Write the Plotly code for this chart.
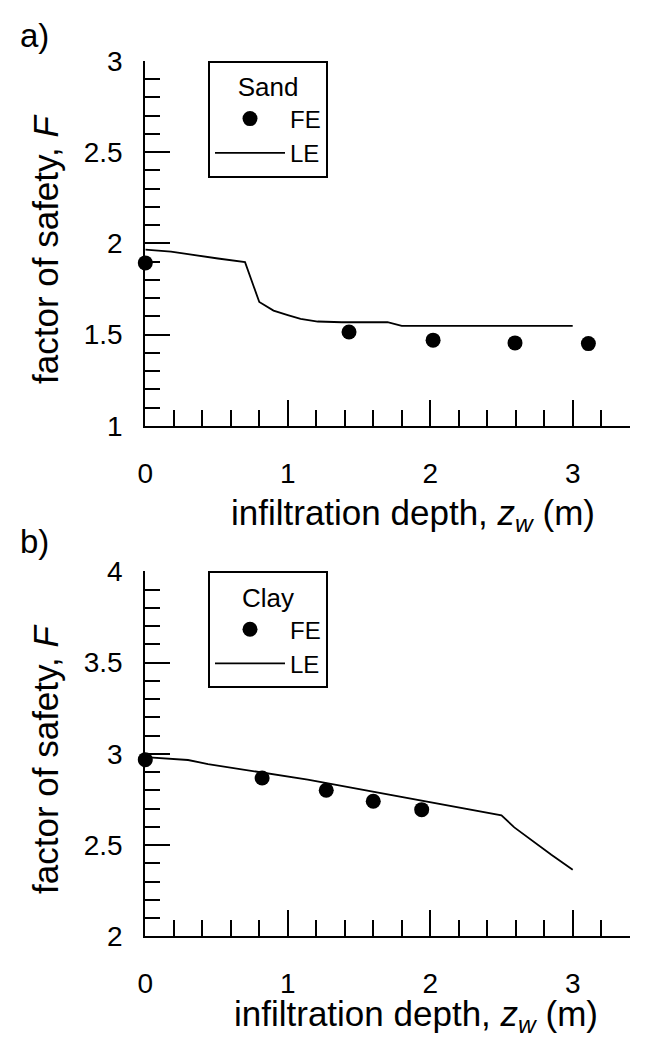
import plotly.graph_objects as go

# ---- data ----
# panel a) Sand
sand_le_x = [0, 0.18, 0.51, 0.70, 0.80, 0.90, 1.00, 1.09, 1.21, 1.38, 1.70, 1.80, 3.00]
sand_le_y = [1.966, 1.955, 1.917, 1.897, 1.679, 1.632, 1.607, 1.586, 1.572, 1.568, 1.568, 1.548, 1.548]
sand_fe_x = [0, 1.43, 2.02, 2.595, 3.11]
sand_fe_y = [1.893, 1.515, 1.470, 1.455, 1.451]

# panel b) Clay
clay_le_x = [0, 0.30, 0.44, 1.14, 2.50, 2.59, 2.85, 3.00]
clay_le_y = [2.982, 2.966, 2.944, 2.858, 2.663, 2.597, 2.447, 2.365]
clay_fe_x = [0, 0.82, 1.27, 1.60, 1.94]
clay_fe_y = [2.968, 2.867, 2.800, 2.740, 2.694]

panel_labels = ["a)", "b)"]
legend_titles = ["Sand", "Clay"]
x_title = "infiltration depth, <i>z<sub>w</sub></i> (m)"
y_title = "factor of safety, <i>F</i>"

x_range = [0, 3.4]
y_range_a = [1, 3]
y_range_b = [2, 4]

FONT = "Liberation Sans, Arial, sans-serif"
W, H = 664, 1038

fig = go.Figure()

marker = dict(color="black", size=15)
line = dict(color="black", width=1.8)

fig.add_trace(go.Scatter(x=sand_fe_x, y=sand_fe_y, mode="markers", marker=marker, name="FE",
                         xaxis="x", yaxis="y", legend="legend", cliponaxis=False))
fig.add_trace(go.Scatter(x=sand_le_x, y=sand_le_y, mode="lines", line=line, name="LE",
                         xaxis="x", yaxis="y", legend="legend", cliponaxis=False))
fig.add_trace(go.Scatter(x=clay_fe_x, y=clay_fe_y, mode="markers", marker=marker, name="FE",
                         xaxis="x2", yaxis="y2", legend="legend2", cliponaxis=False))
fig.add_trace(go.Scatter(x=clay_le_x, y=clay_le_y, mode="lines", line=line, name="LE",
                         xaxis="x2", yaxis="y2", legend="legend2", cliponaxis=False))
# empty traces that only bring the label-carrying overlay axes to life
fig.add_trace(go.Scatter(x=[], y=[], xaxis="x3", yaxis="y3", showlegend=False, hoverinfo="skip"))
fig.add_trace(go.Scatter(x=[], y=[], xaxis="x4", yaxis="y4", showlegend=False, hoverinfo="skip"))

# pixel geometry
x0_px, x1_px = 137.3, 621.7
xdom = [x0_px / W, x1_px / W]
ydom_a = [1 - 418.0 / H, 1 - 52.7 / H]
ydom_b = [1 - 928.3 / H, 1 - 563.3 / H]

tickfont = dict(family=FONT, size=28, color="black")
CLEAR = "rgba(0,0,0,0)"


def xaxis(anchor):
    # axis line with inward major/minor ticks (labels come from the overlay axis)
    return dict(
        domain=xdom, anchor=anchor, range=x_range,
        showline=True, linecolor="black", linewidth=1.8,
        showgrid=False, zeroline=False, showticklabels=False,
        ticks="inside", ticklen=26, tickwidth=1.8, tickcolor="black",
        tick0=0, dtick=1,
        minor=dict(ticks="inside", ticklen=16, tickwidth=1.8, tickcolor="black", dtick=0.2, tick0=0,
                   showgrid=False),
        automargin=False, fixedrange=True,
    )


def xlabels(anchor, over):
    # label-only overlay axis; transparent outside ticks set the label distance
    return dict(
        overlaying=over, anchor=anchor, range=x_range,
        showline=False, showgrid=False, zeroline=False,
        ticks="outside", ticklen=22, tickcolor=CLEAR, tickwidth=1,
        tick0=0, dtick=1, tickfont=tickfont,
        automargin=False, fixedrange=True,
    )


def yaxis(anchor, dom, rng):
    return dict(
        domain=dom, anchor=anchor, range=rng,
        showline=True, linecolor="black", linewidth=1.8,
        showgrid=False, zeroline=False, showticklabels=False,
        ticks="inside", ticklen=25, tickwidth=1.8, tickcolor="black",
        tick0=0, dtick=0.5,
        minor=dict(ticks="inside", ticklen=15, tickwidth=1.8, tickcolor="black", dtick=0.1, tick0=0,
                   showgrid=False),
        automargin=False, fixedrange=True,
    )


def ylabels(anchor, over, rng):
    return dict(
        overlaying=over, anchor=anchor, range=rng,
        showline=False, showgrid=False, zeroline=False,
        ticks="outside", ticklen=16, tickcolor=CLEAR, tickwidth=1,
        tick0=0, dtick=0.5, tickfont=tickfont,
        automargin=False, fixedrange=True,
    )


legend_common = dict(
    xanchor="left", yanchor="top",
    bgcolor="white", bordercolor="black", borderwidth=2,
    font=dict(family=FONT, size=24, color="black"),
    itemwidth=70, tracegroupgap=0,
)


def ann(text, xpx, ypx, size, angle=0, xanchor="center", yanchor="middle"):
    return dict(text=text, xref="paper", yref="paper", x=xpx / W, y=1 - ypx / H,
                xanchor=xanchor, yanchor=yanchor, showarrow=False, textangle=angle,
                font=dict(family=FONT, size=size, color="black"))


fig.update_layout(
    width=W, height=H,
    margin=dict(l=0, r=0, t=0, b=0),
    paper_bgcolor="white", plot_bgcolor="white",
    font=dict(family=FONT, color="black"),
    xaxis=xaxis("y"),
    yaxis=yaxis("x", ydom_a, y_range_a),
    xaxis2=xaxis("y2"),
    yaxis2=yaxis("x2", ydom_b, y_range_b),
    xaxis3=xlabels("y", "x"),
    yaxis3=ylabels("x", "y", y_range_a),
    xaxis4=xlabels("y2", "x2"),
    yaxis4=ylabels("x2", "y2", y_range_b),
    legend=dict(x=200 / W, y=ydom_a[1],
                title=dict(text=legend_titles[0], side="top center",
                           font=dict(family=FONT, size=26, color="black")),
                **legend_common),
    legend2=dict(x=200 / W, y=ydom_b[1],
                 title=dict(text=legend_titles[1], side="top center",
                            font=dict(family=FONT, size=26, color="black")),
                 **legend_common),
    annotations=[
        ann(panel_labels[0], 10, 7, 33, xanchor="left", yanchor="top"),
        ann(panel_labels[1], 10, 513, 33, xanchor="left", yanchor="top"),
        ann(x_title, 405, 507, 35),
        ann(x_title, 408, 1008, 35),
        ann(y_title, 37, 241, 35, angle=-90),
        ann(y_title, 37, 751, 35, angle=-90),
    ],
)

fig.write_html("out.html")
